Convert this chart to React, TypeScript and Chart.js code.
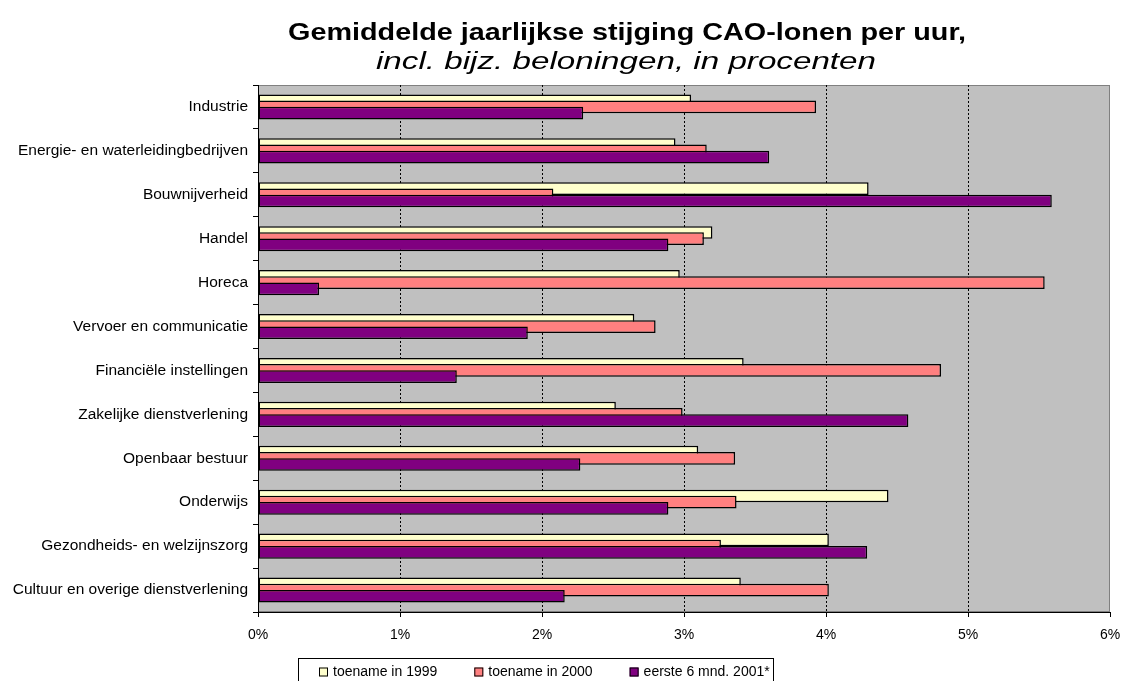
import React, { useEffect, useRef } from "react";
import { Chart, registerables } from "chart.js";

Chart.register(...registerables);

const categories = [
  "Industrie",
  "Energie- en waterleidingbedrijven",
  "Bouwnijverheid",
  "Handel",
  "Horeca",
  "Vervoer en communicatie",
  "Financiële instellingen",
  "Zakelijke dienstverlening",
  "Openbaar bestuur",
  "Onderwijs",
  "Gezondheids- en welzijnszorg",
  "Cultuur en overige dienstverlening",
];
const toename1999 = [3.05, 2.94, 4.3, 3.2, 2.97, 2.65, 3.42, 2.52, 3.1, 4.44, 4.02, 3.4];
const toename2000 = [3.93, 3.16, 2.08, 3.14, 5.54, 2.8, 4.81, 2.99, 3.36, 3.37, 3.26, 4.02];
const eerste2001 = [2.29, 3.6, 5.59, 2.89, 0.43, 1.9, 1.4, 4.58, 2.27, 2.89, 4.29, 2.16];
const seriesLabels = ["toename in 1999", "toename in 2000", "eerste 6 mnd. 2001*"];
const seriesColors = ["#FFFFCC", "#FF8080", "#800080"];
const xTicks = [0, 1, 2, 3, 4, 5, 6];
const titleText = "Gemiddelde jaarlijkse stijging CAO-lonen per uur,";
const subtitleText = "incl. bijz. beloningen, in procenten";

const FONT = '"Liberation Sans", Arial, Helvetica, sans-serif';

const plotBgPlugin = {
  id: "plotBg",
  beforeDraw(chart: any) {
    const { ctx, chartArea: a } = chart;
    ctx.save();
    ctx.fillStyle = "#C0C0C0";
    ctx.fillRect(a.left, a.top, a.width, a.height);
    ctx.strokeStyle = "#808080";
    ctx.lineWidth = 1;
    ctx.strokeRect(a.left + 0.5, a.top + 0.5, a.width - 1, a.height - 1);
    ctx.restore();
  },
};

// draw series in dataset order so later series lie on top (Excel overlap look)
const seriesOrderPlugin = {
  id: "seriesOrder",
  beforeDatasetsDraw(chart: any) {
    chart.data.datasets.forEach((_: any, i: number) => {
      const meta = chart.getDatasetMeta(i);
      if (!meta.hidden) meta.controller.draw();
    });
    return false;
  },
};

const fitText = (ctx: CanvasRenderingContext2D, text: string, font: string, cx: number, cy: number, width: number) => {
  ctx.save();
  ctx.font = font;
  const w = ctx.measureText(text).width;
  ctx.translate(cx, cy);
  ctx.scale(width / w, 1);
  ctx.textAlign = "center";
  ctx.textBaseline = "middle";
  ctx.fillStyle = "#000";
  ctx.fillText(text, 0, 0);
  ctx.restore();
};

const titlePlugin = {
  id: "titles",
  afterDraw(chart: any) {
    const ctx = chart.ctx as CanvasRenderingContext2D;
    fitText(ctx, titleText, `bold 23px ${FONT}`, 627, 34, 678);
    fitText(ctx, subtitleText, `italic 23px ${FONT}`, 626, 63, 500);
  },
};

const legendPlugin = {
  id: "boxLegend",
  afterDraw(chart: any) {
    const ctx = chart.ctx as CanvasRenderingContext2D;
    const left = 298;
    const right = 773;
    const top = 658;
    const cy = 672;
    ctx.save();
    ctx.strokeStyle = "#000";
    ctx.lineWidth = 1;
    ctx.strokeRect(left + 0.5, top + 0.5, right - left, 40);
    ctx.font = `14px ${FONT}`;
    ctx.textBaseline = "middle";
    ctx.textAlign = "left";
    let x = left + 21;
    chart.data.datasets.forEach((ds: any) => {
      ctx.fillStyle = ds.backgroundColor;
      ctx.fillRect(x, cy - 4.5, 9, 9);
      ctx.strokeStyle = "#000";
      ctx.strokeRect(x + 0.5, cy - 4.5 + 0.5, 8, 8);
      ctx.fillStyle = "#000";
      ctx.fillText(ds.label, x + 14, cy);
      x += 14 + ctx.measureText(ds.label).width + 37;
    });
    ctx.restore();
  },
};

export default function App() {
  const canvasRef = useRef<HTMLCanvasElement | null>(null);

  useEffect(() => {
    document.body.style.margin = "0";
    document.body.style.overflow = "hidden";
    const canvas = canvasRef.current;
    if (!canvas) return;
    const values = [toename1999, toename2000, eerste2001];
    const chart = new Chart(canvas, {
      type: "bar",
      data: {
        labels: categories,
        datasets: values.map((v, i) => ({
          label: seriesLabels[i],
          data: v,
          backgroundColor: seriesColors[i],
          borderColor: "#000",
          borderWidth: 1.5,
          borderSkipped: false,
          categoryPercentage: 0.4235,
          barPercentage: 2.05,
        })),
      },
      options: {
        indexAxis: "y",
        animation: false,
        responsive: true,
        maintainAspectRatio: false,
        events: [],
        layout: { padding: { top: 85, left: 0, right: 12, bottom: 29 } },
        font: { family: FONT },
        plugins: {
          legend: { display: false },
          title: { display: false },
          tooltip: { enabled: false },
        },
        scales: {
          x: {
            type: "linear",
            min: 0,
            max: 6,
            afterBuildTicks: (s: any) => {
              s.ticks = xTicks.map((v) => ({ value: v }));
            },
            afterFit: (s: any) => {
              s.height = 40;
              s.paddingLeft = 0;
              s.paddingRight = 0;
            },
            ticks: {
              color: "#000",
              font: { family: FONT, size: 14 },
              padding: 10,
              callback: (v: any) => `${v}%`,
            },
            grid: {
              color: (c: any) =>
                c.tick && (c.tick.value === 0 || c.tick.value === 6) ? "rgba(0,0,0,0)" : "#000",
              lineWidth: 1,
              drawTicks: true,
              tickLength: 5,
              tickColor: "#000",
            },
            border: { display: true, color: "#000", width: 1, dash: [2, 2] },
          },
          y: {
            type: "category",
            offset: true,
            afterFit: (s: any) => {
              s.width = 258;
            },
            ticks: {
              color: "#000",
              font: { family: FONT, size: 15.5 },
              padding: 5,
              autoSkip: false,
            },
            grid: {
              offset: true,
              drawOnChartArea: false,
              drawTicks: true,
              tickLength: 5,
              tickColor: "#000",
            },
            border: { display: true, color: "#000", width: 1 },
          },
        },
      },
      plugins: [plotBgPlugin, seriesOrderPlugin, titlePlugin, legendPlugin],
    } as any);
    return () => chart.destroy();
  }, []);

  return (
    <div style={{ width: 1122, height: 681, position: "relative", overflow: "hidden" }}>
      <canvas ref={canvasRef} style={{ display: "block" }} />
    </div>
  );
}
